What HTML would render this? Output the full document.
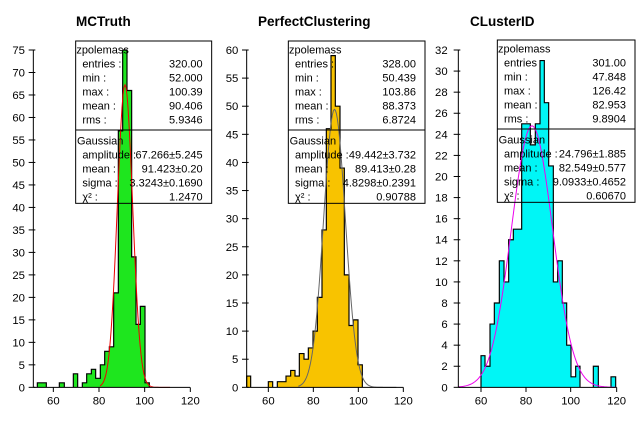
<!DOCTYPE html>
<html><head><meta charset="utf-8"><style>
html,body{margin:0;padding:0;background:#fff;}
svg{display:block;font-family:"Liberation Sans",Arial,sans-serif;}
</style></head><body>
<svg id="s" width="639" height="422" viewBox="0 0 639 422" xmlns="http://www.w3.org/2000/svg">
<rect width="639" height="422" fill="#fff"/>
<text x="76" y="26" font-size="13.5" font-weight="bold">MCTruth</text>
<text x="258" y="26" font-size="13.5" font-weight="bold">PerfectClustering</text>
<text x="470" y="26" font-size="13.5" font-weight="bold">CLusterID</text>
</svg>
<script>
var NS="http://www.w3.org/2000/svg";var svg=document.getElementById('s');
function el(p,t,a,txt){var e=document.createElementNS(NS,t);for(var k in a)e.setAttribute(k,a[k]);if(txt!=null)e.textContent=txt;p.appendChild(e);return e;}
var panels=[
{ox:0,ax:100,x0:100,x1:570,top:60,max:75,step:5,xt:[160,297,434,571],lblx:75,fill:'#1ee61e',
 bins:[[112,139,1],[178,193,1],[220,233,3],[247,260,1],[260,274,3],[274,287,4],[287,301,2],[301,314,5],[314,328,8],[328,341,9],[341,355,21],[355,368,57],[368,381,75],[381,395,66],[395,408,29],[408,421,14],[421,435,18],[435,448,1]],
 g:{mu:375,sig:22.8,amp:67.27,a:300,b:510,col:'#ee0000'},
 box:[227,635,33,300,520],
 st:[['entries :','320.00'],['min :','52.000'],['max :','100.39'],['mean :','90.406'],['rms :','5.9346']],
 gs:[['amplitude :','67.266±5.245'],['mean :','91.423±0.20'],['sigma :','3.3243±0.1690'],['χ² :','1.2470']]},
{ox:215,ax:95,x0:95,x1:565,top:60,max:60,step:5,xt:[160,295,430,565],lblx:70,fill:'#f8c300',
 bins:[[95,107,2],[160,173,1],[187,213,1],[213,227,2],[227,240,3],[240,253,2],[253,267,6],[267,280,5],[280,294,7],[294,307,10],[307,321,16],[321,334,28],[334,348,46],[348,361,59],[361,375,50],[375,388,39],[388,402,20],[402,415,11],[415,429,12],[429,442,4]],
 g:{mu:358.5,sig:32.6,amp:49.44,a:250,b:545,col:'#666666'},
 box:[220,630,33,300,520],
 st:[['entries :','328.00'],['min :','50.439'],['max :','103.86'],['mean :','88.373'],['rms :','6.8724']],
 gs:[['amplitude :','49.442±3.732'],['mean :','89.413±0.28'],['sigma :','4.8298±0.2391'],['χ² :','0.90788']]},
{ox:425,ax:100,x0:100,x1:575,top:60,max:32,step:2,xt:[168,303,437,575],lblx:68,fill:'#00f6f6',
 bins:[[168,180,3],[180,195,2],[195,208,6],[208,223,8],[223,237,12],[237,251,10],[251,265,14],[265,290,15],[290,316,25],[316,331,23],[331,345,25],[345,358,31],[358,371,27],[371,385,21],[385,398,10],[398,412,12],[412,425,8],[425,438,4],[438,452,1],[452,465,2],[505,520,2],[558,572,1]],
 g:{mu:321,sig:61.8,amp:24.8,a:100,b:572,col:'#ee00ee'},
 box:[217,630,30,297,517],
 st:[['entries','301.00'],['min :','47.848'],['max :','126.42'],['mean :','82.953'],['rms :','9.8904']],
 gs:[['amplitude :','24.796±1.885'],['mean :','82.549±0.577'],['sigma :','9.0933±0.4652'],['χ² :','0.60670']]}
];
var labs=[60,80,100,120];
panels.forEach(function(p){
 var g=el(svg,'g',{transform:'translate('+p.ox+',30) scale(0.33333)'});
 var B=1072,sc=(B-p.top)/p.max;
 // histogram
 var d='',px=null;
 p.bins.forEach(function(b){var t=B-b[2]*sc;
  if(px===null||Math.abs(px-b[0])>1){ if(px!==null)d+=' L'+px+' '+B; d+=' M'+b[0]+' '+B;}
  d+=' L'+b[0]+' '+t+' L'+b[1]+' '+t; px=b[1];});
 d+=' L'+px+' '+B;
 el(g,'path',{d:d,fill:p.fill,stroke:'none'});
 el(g,'path',{d:d,fill:'none',stroke:'#000','stroke-width':3.5});
 // gaussian
 var q=p.g,pts=[];for(var x=q.a;x<=q.b;x+=3){var y=B-q.amp*sc*Math.exp(-0.5*Math.pow((x-q.mu)/q.sig,2));pts.push(x+','+y.toFixed(1));}
 el(g,'polyline',{points:pts.join(' '),fill:'none',stroke:q.col,'stroke-width':3});
 // axes
 el(g,'line',{x1:p.ax,y1:p.top,x2:p.ax,y2:B,stroke:'#000','stroke-width':3});
 el(g,'line',{x1:p.x0,y1:B,x2:p.x1,y2:B,stroke:'#000','stroke-width':3});
 for(var v=0;v<=p.max;v+=p.step){var y=B-v*sc;
  el(g,'line',{x1:p.ax-14,y1:y,x2:p.ax+6,y2:y,stroke:'#000','stroke-width':3});
  el(g,'text',{x:p.lblx,y:y+12,'font-size':34,'text-anchor':'end'},String(v));}
 p.xt.forEach(function(x,i){el(g,'line',{x1:x,y1:B,x2:x,y2:B+14,stroke:'#000','stroke-width':3});
  el(g,'text',{x:x,y:B+52,'font-size':34,'text-anchor':'middle'},String(labs[i]));});
 // stats box
 var bx=p.box;
 el(g,'rect',{x:bx[0],y:bx[2],width:bx[1]-bx[0],height:bx[4]-bx[2],fill:'none',stroke:'#000','stroke-width':3});
 el(g,'line',{x1:bx[0],y1:bx[3],x2:bx[1],y2:bx[3],stroke:'#000','stroke-width':3});
 var fs=33,L=bx[0]+20,R=bx[1]-27;
 el(g,'text',{x:bx[0]+2,y:bx[2]+37,'font-size':fs},'zpolemass');
 p.st.forEach(function(s,i){var y=bx[2]+79+i*42;el(g,'text',{x:L,y:y,'font-size':fs},s[0]);el(g,'text',{x:R,y:y,'font-size':fs,'text-anchor':'end'},s[1]);});
 el(g,'text',{x:bx[0]+4,y:bx[3]+44,'font-size':fs},'Gaussian');
 p.gs.forEach(function(s,i){var y=bx[3]+86+i*42;el(g,'text',{x:L,y:y,'font-size':fs},s[0]);el(g,'text',{x:R,y:y,'font-size':fs,'text-anchor':'end'},s[1]);});
});
</script>
</body></html>
